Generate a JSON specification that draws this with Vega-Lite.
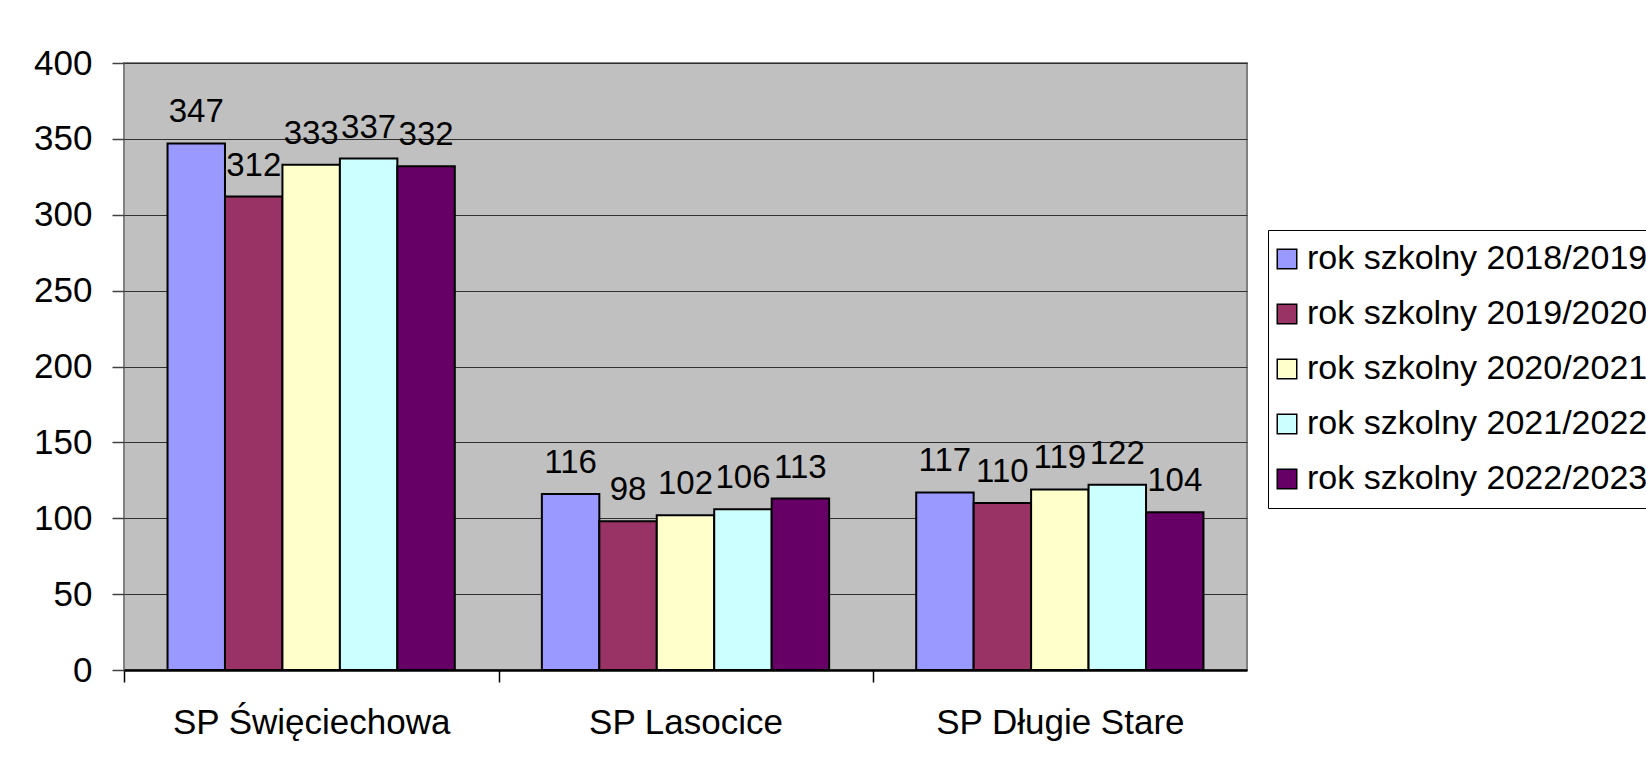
{
  "$schema": "https://vega.github.io/schema/vega-lite/v6.json",
  "autosize": "none",
  "width": 1123,
  "height": 607,
  "padding": {"left": 124, "top": 63, "right": 399, "bottom": 97},
  "background": "white",
  "config": {
    "font": "Liberation Sans",
    "view": {"fill": "#C0C0C0", "stroke": "#808080", "strokeWidth": 2}
  },
  "data": {
    "values": [
      {"szkola": "SP Święciechowa", "rok": "rok szkolny 2018/2019", "liczba": 347},
      {"szkola": "SP Święciechowa", "rok": "rok szkolny 2019/2020", "liczba": 312},
      {"szkola": "SP Święciechowa", "rok": "rok szkolny 2020/2021", "liczba": 333},
      {"szkola": "SP Święciechowa", "rok": "rok szkolny 2021/2022", "liczba": 337},
      {"szkola": "SP Święciechowa", "rok": "rok szkolny 2022/2023", "liczba": 332},
      {"szkola": "SP Lasocice", "rok": "rok szkolny 2018/2019", "liczba": 116},
      {"szkola": "SP Lasocice", "rok": "rok szkolny 2019/2020", "liczba": 98},
      {"szkola": "SP Lasocice", "rok": "rok szkolny 2020/2021", "liczba": 102},
      {"szkola": "SP Lasocice", "rok": "rok szkolny 2021/2022", "liczba": 106},
      {"szkola": "SP Lasocice", "rok": "rok szkolny 2022/2023", "liczba": 113},
      {"szkola": "SP Długie Stare", "rok": "rok szkolny 2018/2019", "liczba": 117},
      {"szkola": "SP Długie Stare", "rok": "rok szkolny 2019/2020", "liczba": 110},
      {"szkola": "SP Długie Stare", "rok": "rok szkolny 2020/2021", "liczba": 119},
      {"szkola": "SP Długie Stare", "rok": "rok szkolny 2021/2022", "liczba": 122},
      {"szkola": "SP Długie Stare", "rok": "rok szkolny 2022/2023", "liczba": 104}
    ]
  },
  "encoding": {
    "x": {
      "field": "szkola",
      "type": "nominal",
      "sort": null,
      "scale": {"paddingInner": 0.2326, "paddingOuter": 0.1163},
      "axis": {
        "title": null,
        "labelAngle": 0,
        "labelFontSize": 35,
        "labelLimit": 0,
        "labelColor": "#000000",
        "labelPadding": 23,
        "tickSize": 12,
        "tickColor": "#000000",
        "tickWidth": 1.5,
        "tickOffset": -187,
        "labelOffset": 187,
        "domainColor": "#000000",
        "domainWidth": 2.5
      }
    },
    "xOffset": {
      "field": "rok",
      "type": "nominal",
      "sort": null,
      "scale": {"paddingInner": 0, "paddingOuter": 0}
    },
    "y": {
      "field": "liczba",
      "type": "quantitative",
      "scale": {"domain": [0, 400], "nice": false},
      "axis": {
        "title": null,
        "values": [0, 50, 100, 150, 200, 250, 300, 350, 400],
        "labelFontSize": 35,
        "labelColor": "#000000",
        "labelPadding": 20,
        "tickSize": 12,
        "tickColor": "#404040",
        "tickWidth": 1.5,
        "domain": false,
        "grid": true,
        "gridColor": "#303030",
        "gridWidth": 1.2
      }
    }
  },
  "layer": [
    {
      "mark": {"type": "bar", "stroke": "#000000", "strokeWidth": 2},
      "encoding": {
        "color": {
          "field": "rok",
          "type": "nominal",
          "sort": null,
          "scale": {
            "domain": ["rok szkolny 2018/2019", "rok szkolny 2019/2020", "rok szkolny 2020/2021", "rok szkolny 2021/2022", "rok szkolny 2022/2023"],
            "range": ["#9999FF", "#993366", "#FFFFCC", "#CCFFFF", "#660066"]
          },
          "legend": {
            "title": null,
            "orient": "none",
            "legendX": 1144,
            "legendY": 167,
            "padding": 12,
            "strokeColor": "#000000",
            "fillColor": "#FFFFFF",
            "symbolType": "square",
            "symbolSize": 380,
            "symbolOffset": -10,
            "symbolStrokeColor": "#000000",
            "symbolStrokeWidth": 1.5,
            "symbolOpacity": 1,
            "labelFontSize": 34,
            "labelColor": "#000000",
            "labelLimit": 600,
            "labelOffset": 3,
            "rowPadding": 21
          }
        }
      }
    },
    {
      "mark": {"type": "text", "fontSize": 33, "baseline": "alphabetic", "dy": -21, "color": "#000000"},
      "encoding": {
        "text": {"field": "liczba", "type": "quantitative"}
      }
    }
  ]
}
